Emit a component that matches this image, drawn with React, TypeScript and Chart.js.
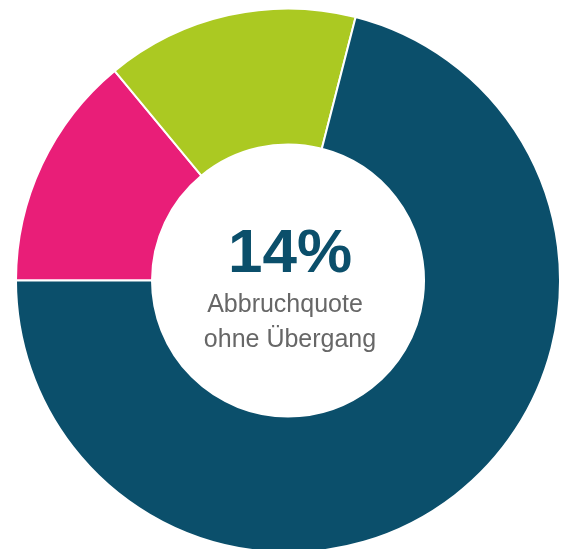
import React, { useEffect, useRef } from "react";
import { Chart, registerables } from "chart.js";

Chart.register(...registerables);

const categories = ["Abbruch ohne Übergang", "Übergang", "Weiter"];
const values = [14, 15, 71];
const colors = ["#e91e78", "#abc922", "#0b4f6b"];
const centerValue = "14%";
const centerLines = ["Abbruchquote", "ohne Übergang"];

const centerTextPlugin = {
  id: "centerText",
  afterDraw(chart: any) {
    const { ctx, chartArea } = chart;
    const cx = (chartArea.left + chartArea.right) / 2 + 2;
    const cy = (chartArea.top + chartArea.bottom) / 2;
    ctx.save();
    ctx.textAlign = "center";
    ctx.textBaseline = "alphabetic";
    ctx.fillStyle = "#0b4f6b";
    ctx.font = "bold 62px 'Liberation Sans', Arial, sans-serif";
    ctx.fillText(centerValue, cx, cy - 9);
    ctx.fillStyle = "#676767";
    ctx.font = "25px 'Liberation Sans', Arial, sans-serif";
    ctx.fillText(centerLines[0], cx - 5, cy + 31);
    ctx.fillText(centerLines[1], cx, cy + 66);
    ctx.restore();
  },
};

export default function App() {
  const ref = useRef<HTMLCanvasElement>(null);
  useEffect(() => {
    if (!ref.current) return;
    const chart = new Chart(ref.current, {
      type: "doughnut",
      data: {
        labels: categories,
        datasets: [
          {
            data: values,
            backgroundColor: colors,
            borderColor: "#ffffff",
            borderWidth: 2,
          },
        ],
      },
      options: {
        animation: false,
        responsive: true,
        maintainAspectRatio: false,
        rotation: -90,
        cutout: "50%",
        radius: 272,
        layout: { padding: 0 },
        plugins: {
          legend: { display: false },
          tooltip: { enabled: false },
        },
      },
      plugins: [centerTextPlugin],
    });
    return () => chart.destroy();
  }, []);
  return (
    <div style={{ width: 560, height: 541, overflow: "hidden" }}>
      <div style={{ width: 560, height: 545, position: "relative" }}>
        <canvas ref={ref} />
      </div>
    </div>
  );
}
